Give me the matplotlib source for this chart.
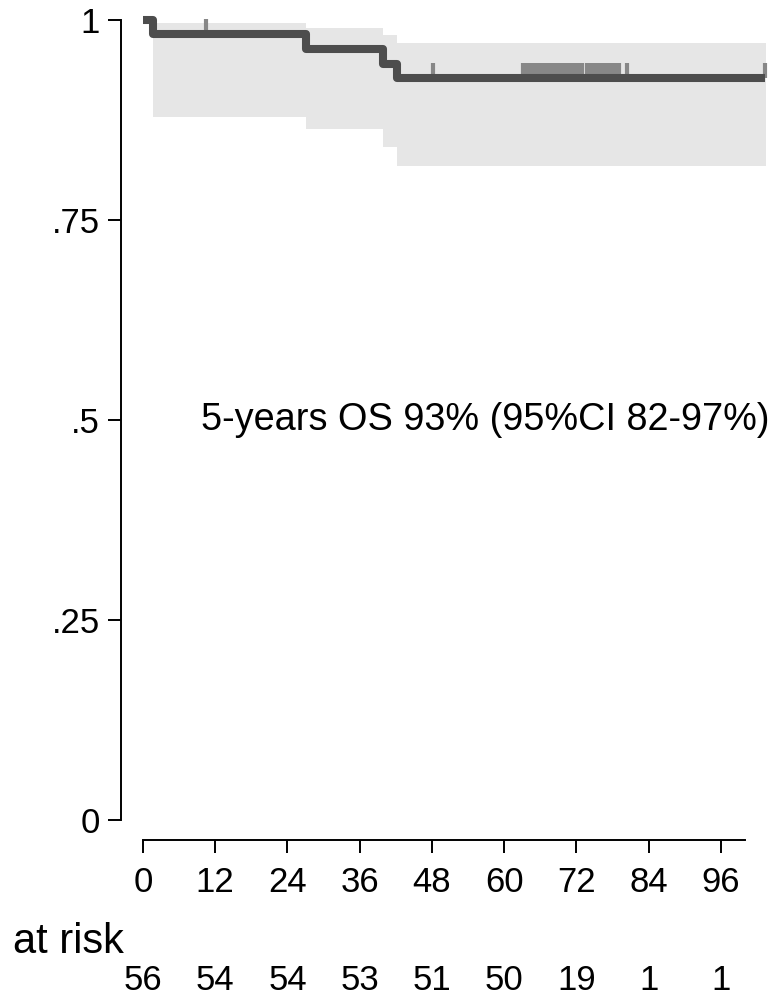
import numpy as np
import matplotlib.pyplot as plt
import matplotlib.transforms as mtransforms

plt.rcParams['font.family'] = ['Liberation Sans', 'DejaVu Sans']

# Kaplan-Meier estimate (months)
event_times = [1.6, 27.0, 39.9, 42.2]
surv = [0.982, 0.964, 0.945, 0.927]
ci_upper = [0.996, 0.990, 0.981, 0.971]
ci_lower = [0.879, 0.864, 0.841, 0.818]
last_time = 103.3

# censored observations
censor_times = [10.5, 48.2,
                63.1, 63.4, 63.6, 64.1,
                64.8, 65.1, 65.4, 65.7, 66.0, 66.3, 66.6, 66.9, 67.2, 67.5,
                67.8, 68.1, 68.4, 68.7, 69.0, 69.3, 69.6, 69.9, 70.1,
                70.7, 70.9, 71.2, 71.4, 71.6, 71.8, 71.9, 71.95,
                72.2, 72.5, 72.8, 73.0, 73.7, 74.5, 74.8,
                75.35, 75.77, 76.2, 76.62, 77.04, 77.46, 77.88, 78.3, 78.72, 79.1,
                80.4, 103.3]

xticks = [0, 12, 24, 36, 48, 60, 72, 84, 96]
at_risk = [56, 54, 54, 53, 51, 50, 19, 1, 1]
yticks = [0, 0.25, 0.5, 0.75, 1]
ytick_labels = ['0', '.25', '.5', '.75', '1']

fig = plt.figure(figsize=(7.71, 10.01), dpi=100)
ax = fig.add_axes([143 / 771, 181 / 1001, 626 / 771, 800 / 1001])

# step curve
t_line = [0] + event_times + [last_time]
s_line = [1.0] + surv + [surv[-1]]
t_ci = event_times + [last_time + 0.2]
lo = ci_lower + [ci_lower[-1]]
hi = ci_upper + [ci_upper[-1]]

ax.fill_between(t_ci, lo, hi, step='post', color='#e6e6e6', lw=0, zorder=1)
ax.plot(t_line, s_line, drawstyle='steps-post', color='#4d4d4d', lw=5.8,
        solid_joinstyle='round', solid_capstyle='butt', zorder=3, clip_on=False)

# censor marks
def s_at(t):
    s = 1.0
    for et, sv in zip(event_times, surv):
        if t >= et:
            s = sv
    return s

cs = [s_at(t) for t in censor_times]
ax.vlines(censor_times, cs, [c + 0.019 for c in cs], color='#878787', lw=3,
          zorder=2, clip_on=False)

ax.text(9.6, 0.5, '5-years OS 93% (95%CI 82-97%)', fontsize=27.3,
        ha='left', va='center')

ax.set_xlim(0, 104)
ax.set_ylim(0, 1)
for side in ['top', 'right']:
    ax.spines[side].set_visible(False)
ax.spines['left'].set_position(('outward', 15.8))
ax.spines['bottom'].set_position(('outward', 14.4))
ax.spines['left'].set_bounds(0, 1)
ax.spines['bottom'].set_bounds(0, 100)
for side in ['left', 'bottom']:
    ax.spines[side].set_linewidth(1.4)
ax.set_xticks(xticks)
ax.set_yticks(yticks)
ax.set_yticklabels(ytick_labels)
ax.tick_params(axis='both', length=9.4, width=1.4, labelsize=25)
ax.tick_params(axis='y', pad=6)
ax.tick_params(axis='x', pad=9)

# number at risk table
fig.text(13 / 771, 48 / 1001, 'at risk', fontsize=30, ha='left', va='baseline')
trans = mtransforms.blended_transform_factory(ax.transData, fig.transFigure)
for xt, n in zip(xticks, at_risk):
    ax.text(xt, 11 / 1001, str(n), transform=trans, fontsize=25,
            ha='center', va='baseline')

fig.savefig('out.png', dpi=100)
